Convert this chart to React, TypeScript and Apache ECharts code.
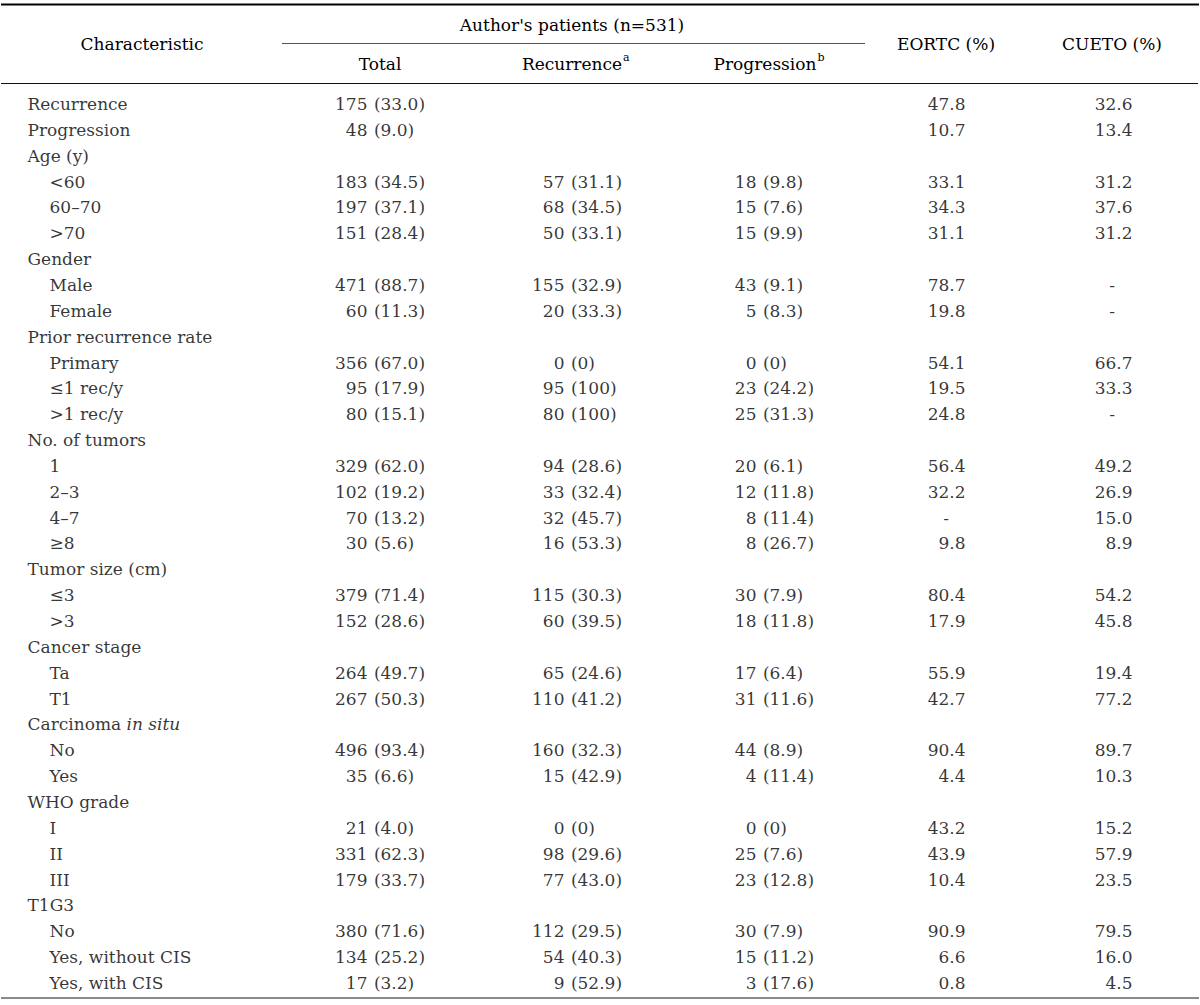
import React, { useEffect, useRef } from "react";
import * as echarts from "echarts";

const rowLabels = [
  "Recurrence", "Progression", "Age (y)", "<60", "60–70", ">70",
  "Gender", "Male", "Female",
  "Prior recurrence rate", "Primary", "≤1 rec/y", ">1 rec/y",
  "No. of tumors", "1", "2–3", "4–7", "≥8",
  "Tumor size (cm)", "≤3", ">3",
  "Cancer stage", "Ta", "T1",
  "Carcinoma in situ", "No", "Yes",
  "WHO grade", "I", "II", "III",
  "T1G3", "No", "Yes, without CIS", "Yes, with CIS",
];
const rowLevels = [0, 0, 0, 1, 1, 1, 0, 1, 1, 0, 1, 1, 1, 0, 1, 1, 1, 1, 0, 1, 1, 0, 1, 1, 0, 1, 1, 0, 1, 1, 1, 0, 1, 1, 1];

const totalN = [175, 48, null, 183, 197, 151, null, 471, 60, null, 356, 95, 80, null, 329, 102, 70, 30, null, 379, 152, null, 264, 267, null, 496, 35, null, 21, 331, 179, null, 380, 134, 17];
const totalPct = [33.0, 9.0, null, 34.5, 37.1, 28.4, null, 88.7, 11.3, null, 67.0, 17.9, 15.1, null, 62.0, 19.2, 13.2, 5.6, null, 71.4, 28.6, null, 49.7, 50.3, null, 93.4, 6.6, null, 4.0, 62.3, 33.7, null, 71.6, 25.2, 3.2];
const recN = [null, null, null, 57, 68, 50, null, 155, 20, null, 0, 95, 80, null, 94, 33, 32, 16, null, 115, 60, null, 65, 110, null, 160, 15, null, 0, 98, 77, null, 112, 54, 9];
const recPct = [null, null, null, 31.1, 34.5, 33.1, null, 32.9, 33.3, null, 0, 100, 100, null, 28.6, 32.4, 45.7, 53.3, null, 30.3, 39.5, null, 24.6, 41.2, null, 32.3, 42.9, null, 0, 29.6, 43.0, null, 29.5, 40.3, 52.9];
const progN = [null, null, null, 18, 15, 15, null, 43, 5, null, 0, 23, 25, null, 20, 12, 8, 8, null, 30, 18, null, 17, 31, null, 44, 4, null, 0, 25, 23, null, 30, 15, 3];
const progPct = [null, null, null, 9.8, 7.6, 9.9, null, 9.1, 8.3, null, 0, 24.2, 31.3, null, 6.1, 11.8, 11.4, 26.7, null, 7.9, 11.8, null, 6.4, 11.6, null, 8.9, 11.4, null, 0, 7.6, 12.8, null, 7.9, 11.2, 17.6];
const eortc = [47.8, 10.7, null, 33.1, 34.3, 31.1, null, 78.7, 19.8, null, 54.1, 19.5, 24.8, null, 56.4, 32.2, "-", 9.8, null, 80.4, 17.9, null, 55.9, 42.7, null, 90.4, 4.4, null, 43.2, 43.9, 10.4, null, 90.9, 6.6, 0.8];
const cueto = [32.6, 13.4, null, 31.2, 37.6, 31.2, null, "-", "-", null, 66.7, 33.3, "-", null, 49.2, 26.9, 15.0, 8.9, null, 54.2, 45.8, null, 19.4, 77.2, null, 89.7, 10.3, null, 15.2, 57.9, 23.5, null, 79.5, 16.0, 4.5];

const FONT = "'DejaVu Serif', 'Liberation Serif', serif";
const FS = 17;
const COLOR = "#000";

const fmtPct = (v: number) => (v === 0 || v === 100 ? String(v) : v.toFixed(1));

function measure(text: string, font: string) {
  const c = document.createElement("canvas").getContext("2d");
  if (!c) return text.length * 9;
  c.font = font;
  return c.measureText(text).width;
}

function textSeries(id: string, data: any[], position: string) {
  return {
    type: "scatter",
    id,
    symbolSize: 1,
    itemStyle: { color: "rgba(0,0,0,0)" },
    silent: true,
    emphasis: { disabled: true },
    label: {
      show: true,
      position,
      distance: 0,
      formatter: "{b}",
      fontFamily: FONT,
      fontSize: FS,
      color: COLOR,
    },
    data,
    z: 5,
  };
}

export default function App() {
  const ref = useRef<HTMLDivElement>(null);
  useEffect(() => {
    if (!ref.current) return;
    const chart = echarts.init(ref.current, undefined, { renderer: "svg" });

    // column anchors (layout)
    const X_LABEL = [27, 49];
    const X_TOTAL = 368;
    const X_REC = 565;
    const X_PROG = 757;
    const X_EORTC = 966;
    const X_CUETO = 1133;
    const C_EORTC = 946;
    const C_CUETO = 1112;
    const SP = measure(" ", `${FS}px ${FONT}`);

    const labelData = rowLabels.map((t, i) => {
      if (t === "Carcinoma in situ") {
        return {
          name: t,
          value: [X_LABEL[rowLevels[i]], i],
          label: {
            formatter: "{n|Carcinoma }{it|in situ}",
            rich: {
              n: { fontFamily: FONT, fontSize: FS, color: COLOR },
              it: { fontFamily: FONT, fontSize: FS, color: COLOR, fontStyle: "italic" },
            },
          },
        };
      }
      return { name: t, value: [X_LABEL[rowLevels[i]], i] };
    });

    const countItems = (ns: any[], x: number) =>
      ns.map((v, i) => (v == null ? null : { name: String(v), value: [x, i] })).filter(Boolean);
    const pctItems = (ps: any[], x: number) =>
      ps.map((v, i) => (v == null ? null : { name: "(" + fmtPct(v) + ")", value: [x + SP, i] })).filter(Boolean);
    const numItems = (vs: any[], x: number) =>
      vs.map((v, i) => (v == null || v === "-" ? null : { name: (v as number).toFixed(1), value: [x, i] })).filter(Boolean);
    const dashItems = (vs: any[], x: number) =>
      vs.map((v, i) => (v === "-" ? { name: "-", value: [x, i] } : null)).filter(Boolean);

    const headFont = `${FS}px ${FONT}`;
    const wRec = measure("Recurrence", headFont);
    const wProg = measure("Progression", headFont);
    const recLeft = 572 - wRec / 2;
    const progLeft = 765 - wProg / 2;

    const txt = (text: string, x: number, y: number, align = "center", size = FS) => ({
      type: "text",
      x,
      y,
      silent: true,
      style: {
        text,
        fill: COLOR,
        font: `${size}px ${FONT}`,
        align,
        verticalAlign: "middle",
        textAlign: align,
        textVerticalAlign: "middle",
      },
    });
    const line = (x1: number, y1: number, x2: number, y2: number, stroke: string, w: number) => ({
      type: "line",
      silent: true,
      shape: { x1, y1, x2, y2 },
      style: { stroke, lineWidth: w },
    });

    const ROW0 = 104;
    const ROWH = 25.85;
    const n = rowLabels.length;

    chart.setOption({
      animation: false,
      grid: { left: 0, right: 0, top: ROW0 - ROWH / 2, height: ROWH * n },
      xAxis: { type: "value", min: 0, max: 1200, show: false },
      yAxis: { type: "category", data: rowLabels, inverse: true, show: false },
      series: [
        textSeries("labels", labelData, "right"),
        textSeries("totalN", countItems(totalN, X_TOTAL), "left"),
        textSeries("totalPct", pctItems(totalPct, X_TOTAL), "right"),
        textSeries("recN", countItems(recN, X_REC), "left"),
        textSeries("recPct", pctItems(recPct, X_REC), "right"),
        textSeries("progN", countItems(progN, X_PROG), "left"),
        textSeries("progPct", pctItems(progPct, X_PROG), "right"),
        textSeries("eortc", numItems(eortc, X_EORTC), "left"),
        textSeries("eortcDash", dashItems(eortc, C_EORTC), "inside"),
        textSeries("cueto", numItems(cueto, X_CUETO), "left"),
        textSeries("cuetoDash", dashItems(cueto, C_CUETO), "inside"),
      ],
      graphic: [
        line(1, 4.5, 1199, 4.5, "#000", 2.2),
        line(282, 43.5, 865, 43.5, "#555", 1),
        line(1, 83.5, 1198, 83.5, "#111", 1.2),
        line(1, 998, 1199, 998, "#8a8a8a", 2),
        txt("Characteristic", 142, 44),
        txt("Author's patients (n=531)", 572, 25),
        txt("EORTC (%)", 946, 44),
        txt("CUETO (%)", 1112, 44),
        txt("Total", 380, 64),
        txt("Recurrence", recLeft, 64, "left"),
        txt("a", recLeft + wRec + 1, 57, "left", 11),
        txt("Progression", progLeft, 64, "left"),
        txt("b", progLeft + wProg + 1, 57, "left", 11),
      ],
    });
    return () => chart.dispose();
  }, []);
  return (
    <div
      ref={ref}
      style={{ position: "fixed", left: 0, top: 0, width: 1200, height: 1005, background: "#fff" }}
    />
  );
}
